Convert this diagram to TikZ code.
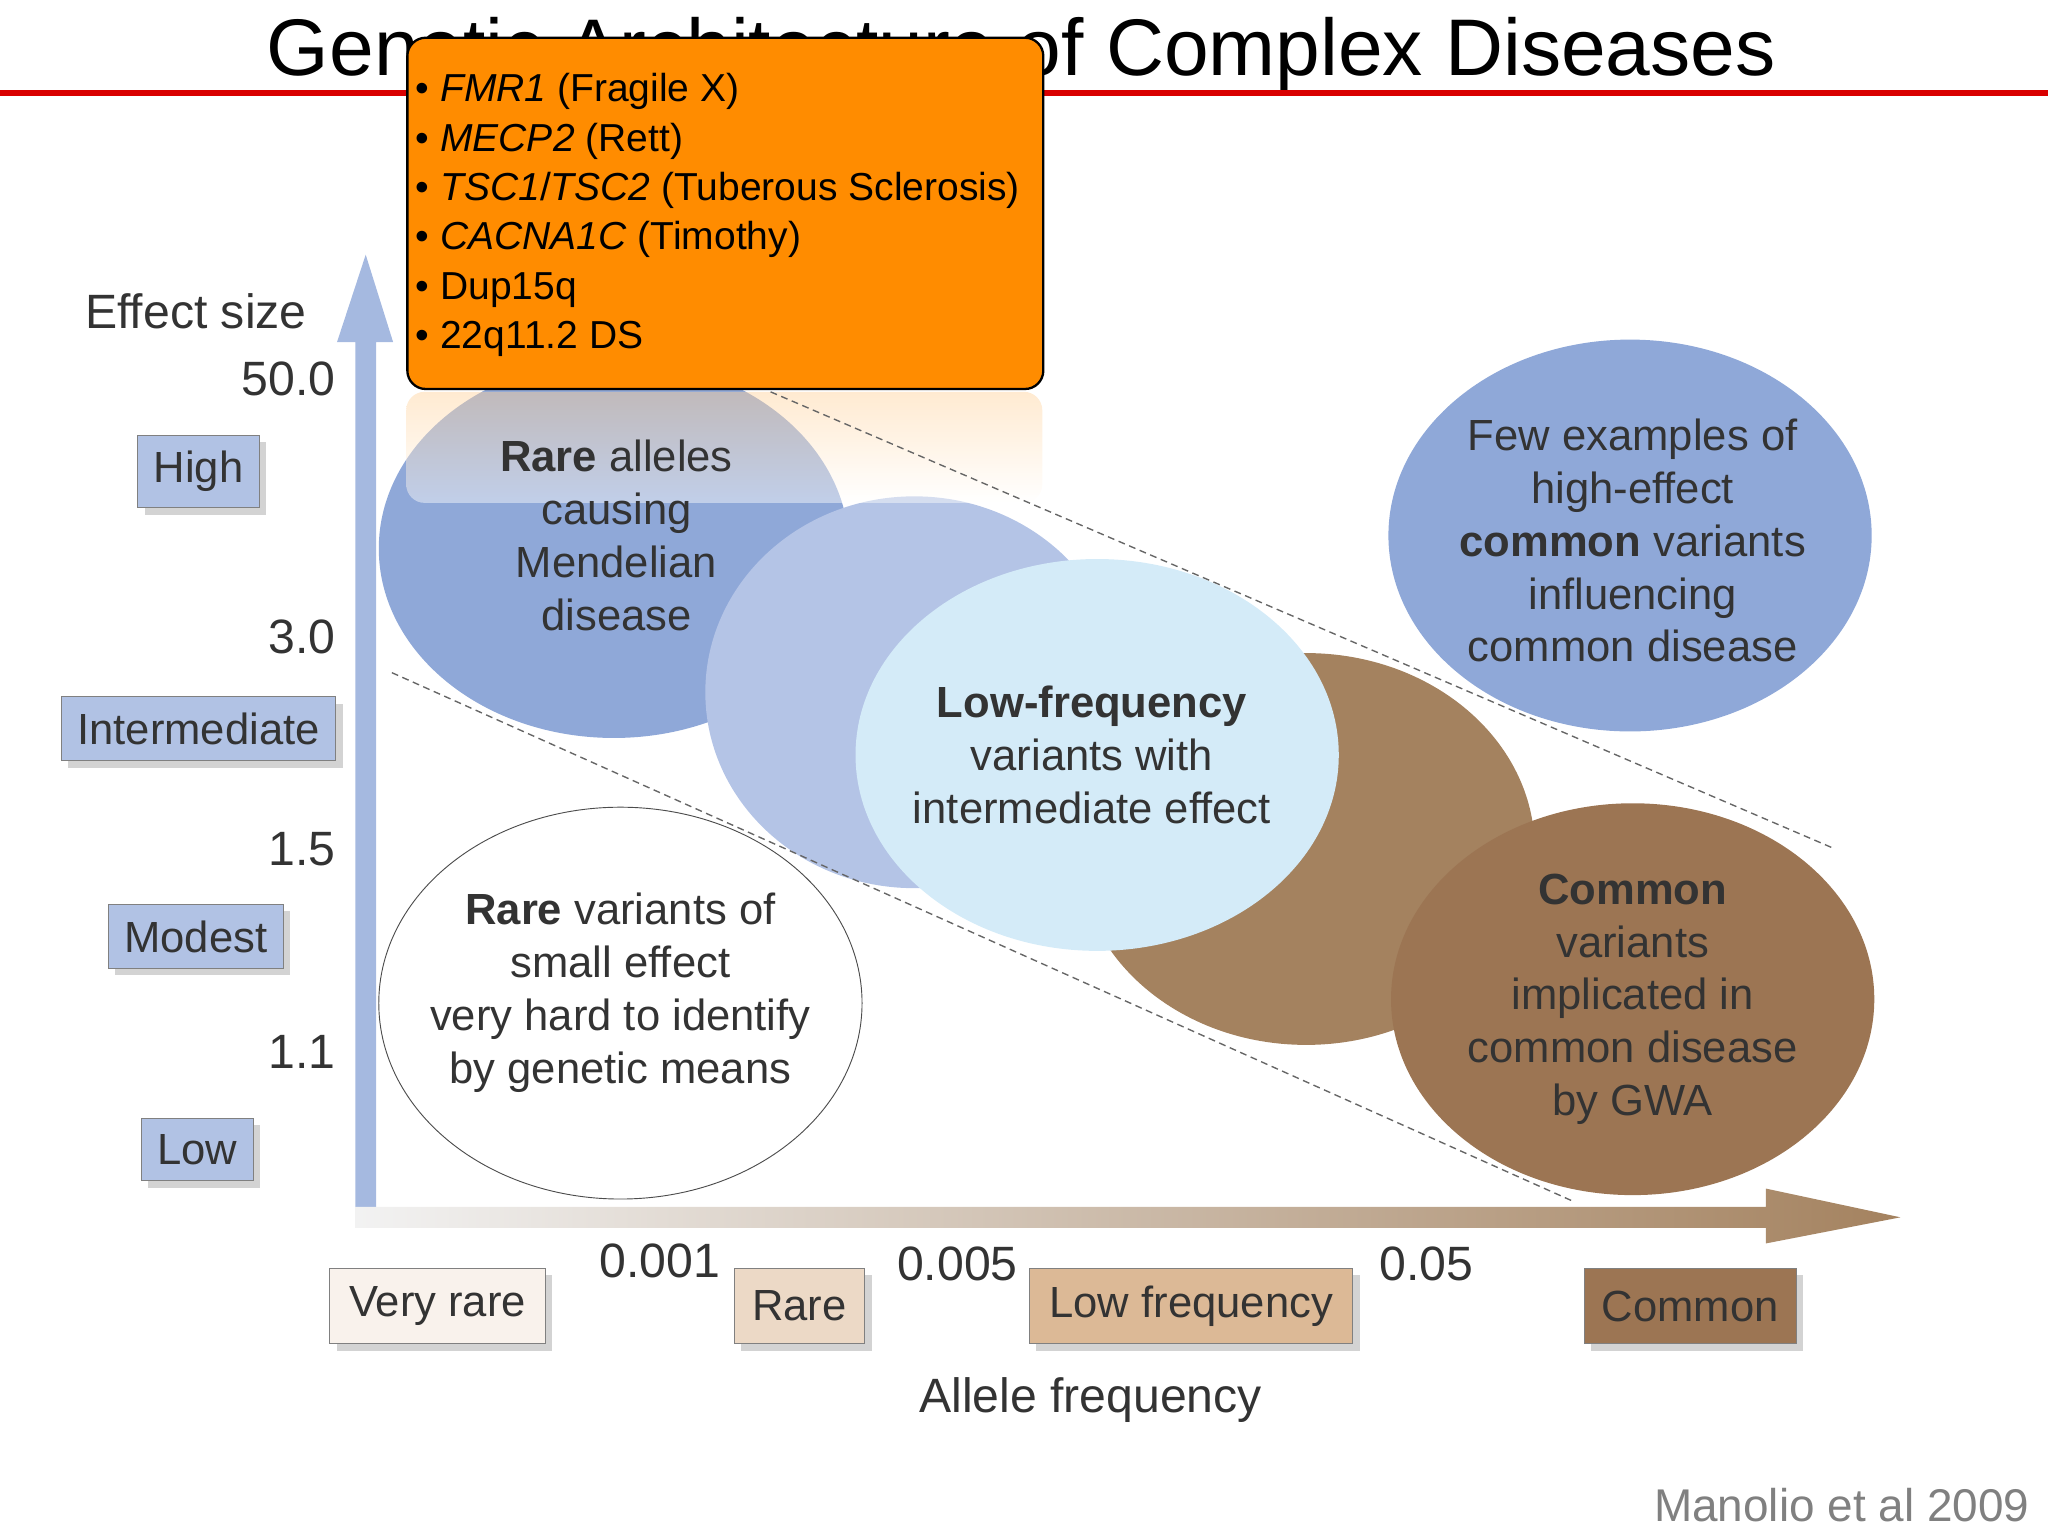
\documentclass[tikz,border=0pt]{standalone}
\usepackage{fontspec}
\setmainfont{Liberation Sans}
\usetikzlibrary{shapes.geometric,arrows.meta,shadows}
\definecolor{bl}{HTML}{8FA8D8}
\definecolor{bl2}{HTML}{B4C4E6}
\definecolor{lb}{HTML}{D4EBF8}
\definecolor{br}{HTML}{A4825F}
\definecolor{br2}{HTML}{9C7553}
\definecolor{org}{HTML}{FF8C00}
\tikzset{
 etxt/.style={align=center,font=\fontsize{19}{23}\selectfont,text=black!80},
 ybox/.style={draw=black!50,fill=bl!70,font=\fontsize{19}{22}\selectfont,text=black!80,inner sep=7pt,drop shadow={shadow xshift=3pt,shadow yshift=-3pt,opacity=.35}},
 xbox/.style={draw=black!50,font=\fontsize{19}{22}\selectfont,text=black!80,inner sep=7pt,minimum height=1.15cm,drop shadow={shadow xshift=3pt,shadow yshift=-3pt,opacity=.35}},
 num/.style={font=\fontsize{21}{24}\selectfont,text=black!80},
 dl/.style={densely dashed,black!60,line width=0.6pt}
}
\begin{document}
\begin{tikzpicture}[x=0.02cm,y=-0.02cm]
\useasboundingbox (0,0) rectangle (1568,1176);
% title
\node (title) at (782,42) {\fontsize{35}{40}\selectfont Genetic Architecture of Complex Diseases};
\draw[red!85!black,line width=2.5pt] (0,71) -- (1568,71);
% axes
\fill[bl!80] (272,940) -- (272,262) -- (258,262) -- (280,195) -- (301,262) -- (288,262) -- (288,940) -- cycle;
\shade[left color=black!5,right color=br] (272,924) -- (1352,924) -- (1352,910) -- (1455,932) -- (1352,952) -- (1352,940) -- (272,940) -- cycle;
% ellipses
\fill[bl] (470,420) ellipse [x radius=180,y radius=145];
\fill[bl2] (700,530) ellipse [x radius=160,y radius=150];
\fill[br] (1000,650) ellipse [x radius=175,y radius=150];
\fill[lb] (840,578) ellipse [x radius=185,y radius=150];
\fill[br2] (1250,765) ellipse [x radius=185,y radius=150];
\fill[bl] (1248,410) ellipse [x radius=185,y radius=150];
\draw[black!70,fill=white] (475,768) ellipse [x radius=185,y radius=150];
% reflection of orange box
\shade[top color=org!40,bottom color=white,opacity=.45,rounded corners=8pt] (311,300) rectangle (798,385);
\node[etxt] (raretxt) at (472,410) {\textbf{Rare} alleles\\causing\\Mendelian\\disease};
\node[etxt] (low) at (836,578) {\textbf{Low-frequency}\\variants with\\intermediate effect};
\node[etxt] (common) at (1250,765) {\textbf{Common}\\variants\\implicated in\\common disease\\by GWA};
\node[etxt] (few) at (1250,414) {Few examples of\\high-effect\\\textbf{common} variants\\influencing\\common disease};
\node[etxt] (small) at (475,760) {\textbf{Rare} variants of\\small effect\\very hard to identify\\by genetic means};
% dashed lines
\coordinate (d1a) at (590,300); \coordinate (d1b) at (1405,650);
\coordinate (d2a) at (300,515); \coordinate (d2b) at (1205,920);
\draw[dl] (d1a) -- (d1b);
\draw[dl] (d2a) -- (d2b);
% y labels
\node[num] (e) at (150,238) {Effect size};
\node[num,anchor=east] (n50) at (263,290) {50.0};
\node[num,anchor=east] (n3) at (263,488) {3.0};
\node[num,anchor=east] (n15) at (263,650) {1.5};
\node[num,anchor=east] (n11) at (263,805) {1.1};
\node[ybox] (high) at (152,361) {High};
\node[ybox] (inter) at (152,558) {Intermediate};
\node[ybox] (mod) at (150,717) {Modest};
\node[ybox] (lowb) at (151,880) {Low};
% x labels
\node[num] (x1) at (505,965) {0.001};
\node[num] (x2) at (733,968) {0.005};
\node[num] (x3) at (1092,968) {0.05};
\node[xbox,fill=brown!10,minimum width=3.3cm] (vr) at (335,1000) {Very rare};
\node[xbox,fill=brown!30,minimum width=2cm] (rr) at (612,1000) {Rare};
\node[xbox,fill=brown!55,minimum width=4.95cm] (lf) at (912,1000) {Low frequency};
\node[xbox,fill=br2,minimum width=3.25cm] (cm) at (1294,1000) {Common};
\node[num] (af) at (835,1072) {Allele frequency};
\node[text=black!50,font=\fontsize{20}{24}\selectfont] (cite) at (1410,1152) {Manolio et al 2009};
% orange box
\node[draw=black,fill=org,rounded corners=8pt,line width=1pt,minimum width=9.74cm,minimum height=5.38cm,anchor=north west,inner sep=0pt] (ob) at (311,28) {};
\node[anchor=north west,align=left,font=\fontsize{17}{21.5}\selectfont,inner sep=0pt] (obt) at (318,56) {%
• \textit{FMR1} (Fragile X)\\
• \textit{MECP2} (Rett)\\
• \textit{TSC1}/\textit{TSC2} (Tuberous Sclerosis)\\
• \textit{CACNA1C} (Timothy)\\
• Dup15q\\
• 22q11.2 DS};
\end{tikzpicture}
\end{document}
